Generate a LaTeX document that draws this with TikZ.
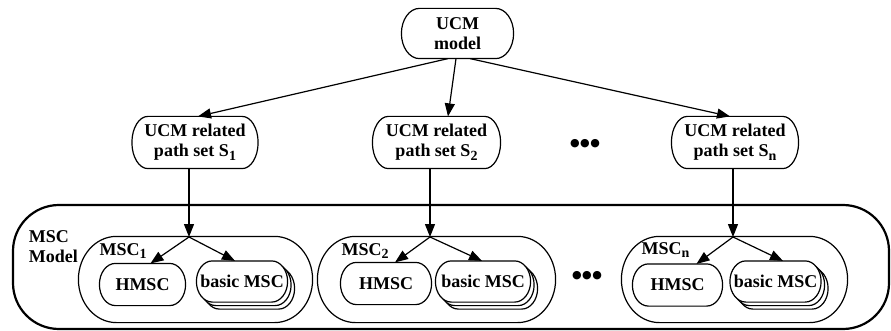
\documentclass[tikz,border=0pt]{standalone}
\usepackage{fontspec}
\setmainfont{Liberation Serif}
\newfontfamily\dotfont{DejaVu Sans}
\usetikzlibrary{arrows.meta,shadows}
\tikzset{every picture/.style={line width=1.2pt}}
\newcommand{\lowsub}[1]{\raisebox{-0.4ex}{\fontsize{14}{14}\selectfont #1}}
\newcommand{\threedots}{{\dotfont\fontsize{11}{11}\selectfont ●\kern0.5pt●\kern0.5pt●}}

% box with flat top and bottom and half-ellipse ends
\makeatletter
\pgfdeclareshape{oval box}{
  \inheritsavedanchors[from=rectangle]
  \inheritanchorborder[from=rectangle]
  \inheritanchor[from=rectangle]{center}
  \inheritanchor[from=rectangle]{north}
  \inheritanchor[from=rectangle]{south}
  \inheritanchor[from=rectangle]{east}
  \inheritanchor[from=rectangle]{west}
  \inheritanchor[from=rectangle]{north east}
  \inheritanchor[from=rectangle]{north west}
  \inheritanchor[from=rectangle]{south east}
  \inheritanchor[from=rectangle]{south west}
  \inheritanchor[from=rectangle]{base}
  \inheritanchor[from=rectangle]{mid}
  \backgroundpath{%
    \southwest \pgfmathsetmacro\ov@xa{\pgf@x}\pgfmathsetmacro\ov@ya{\pgf@y}%
    \northeast \pgfmathsetmacro\ov@xb{\pgf@x}\pgfmathsetmacro\ov@yb{\pgf@y}%
    \pgfmathsetmacro\ov@ry{(\ov@yb-\ov@ya)/2}%
    \pgfmathsetmacro\ov@rx{\ovalcap}%
    \pgfpathmoveto{\pgfpoint{\ov@xa pt+\ov@rx pt}{\ov@yb pt}}%
    \pgfpathlineto{\pgfpoint{\ov@xb pt-\ov@rx pt}{\ov@yb pt}}%
    \pgfpatharc{90}{-90}{\ov@rx pt and \ov@ry pt}%
    \pgfpathlineto{\pgfpoint{\ov@xa pt+\ov@rx pt}{\ov@ya pt}}%
    \pgfpatharc{270}{90}{\ov@rx pt and \ov@ry pt}%
    \pgfpathclose
  }
}
\makeatother
\tikzset{oval cap/.store in=\ovalcap, oval cap=16}

\begin{document}
\begin{tikzpicture}[x=1pt, y=-1pt, >={Triangle[length=13pt,width=10pt]},
    every node/.style={font=\fontsize{18}{20}\selectfont\bfseries},
    pill/.style={draw, fill=white, shape=oval box, oval cap=16, align=center, inner sep=0pt},
    group/.style={draw, shape=oval box, oval cap=38, minimum width=233pt, minimum height=85pt},
    stack/.style={pill, minimum width=90pt, minimum height=40pt,
        double copy shadow={shadow xshift=3.5pt, shadow yshift=-3.5pt, fill=white, draw=black}}]
        \useasboundingbox (0,0) rectangle (891,331);
        % UCM part
        \node[pill, oval cap=18, minimum width=111pt, minimum height=49pt] (model) at (457.5,33.5) {UCM\\model};
        \node[pill, minimum width=125pt, minimum height=51pt] (s1) at (195,142.5) {UCM related\\path set S\lowsub{1}};
        \node[pill, minimum width=127pt, minimum height=51pt] (s2) at (436.5,142.5) {UCM related\\path set S\lowsub{2}};
        \node[pill, minimum width=126pt, minimum height=51pt] (sn) at (735,142.5) {UCM related\\path set S\lowsub{n}};
        \node (dots1) at (585,144) {\threedots};
        \draw[->] ([xshift=-9.5pt]model.south) -- ([xshift=3pt]s1.north);
        \draw[->] ([xshift=-1.5pt]model.south) -- ([xshift=11.5pt]s2.north);
        \draw[->] ([xshift=12.5pt]model.south) -- ([xshift=-5pt]sn.north);
        % MSC part
        \node[draw, line width=2.2pt, rounded corners=46pt, minimum width=876pt, minimum height=124pt] (mscmodel) at (451,267) {};
        \node[anchor=north west, align=left] (mscmodeltxt) at (25,227) {MSC\\Model};
        \node[group] (msc1) at (195.5,279.5) {};
        \node[group, minimum width=237pt] (msc2) at (436.5,279.5) {};
        \node[group, minimum width=225pt] (mscn) at (734.5,279.5) {};
        \node (dots2) at (587,276) {\threedots};
        \node[anchor=base west, inner sep=0pt] (l1) at (99,255) {MSC\lowsub{1}};
        \node[anchor=base west, inner sep=0pt] (l2) at (341,255) {MSC\lowsub{2}};
        \node[anchor=base west, inner sep=0pt] (ln) at (641,254) {MSC\lowsub{n}};
        \node[pill, minimum width=85pt, minimum height=41pt] (h1) at (142.5,284.5) {HMSC};
        \node[pill, minimum width=90pt, minimum height=41pt] (h2) at (386,283.5) {HMSC};
        \node[pill, minimum width=89pt, minimum height=41pt] (hn) at (677.5,285) {HMSC};
        \node[stack] (b1) at (242,281.5) {basic MSC};
        \node[stack, minimum width=94pt] (b2) at (483,281.5) {basic MSC};
        \node[stack] (bn) at (775.5,281.5) {basic MSC};
        \coordinate (j1) at (189,237);
        \coordinate (j2) at (430,237);
        \coordinate (jn) at (733,237);
        \draw[->] (s1.south -| j1) -- (j1);
        \draw[->] (s2.south -| j2) -- (j2);
        \draw[->] (sn.south -| jn) -- (jn);
        \draw[->] (j1) -- ([xshift=8pt]h1.north);
        \draw[->] (j1) -- ([xshift=-7pt]b1.north);
        \draw[->] (j2) -- ([xshift=9pt]h2.north);
        \draw[->] (j2) -- ([xshift=-1pt]b2.north);
        \draw[->] (jn) -- ([xshift=19pt]hn.north);
        \draw[->] (jn) -- ([xshift=7.5pt]bn.north);
\end{tikzpicture}
\end{document}
